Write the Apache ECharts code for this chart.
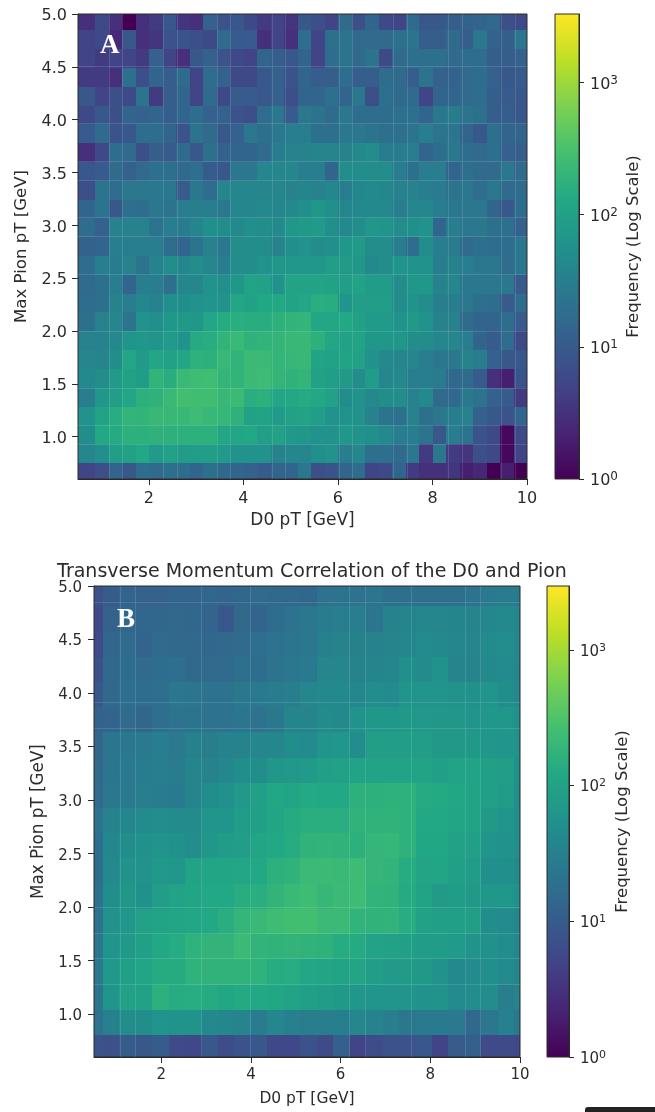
<!DOCTYPE html>
<html><head><meta charset="utf-8">
<script src="https://cdn.jsdelivr.net/npm/echarts@6/dist/echarts.min.js"></script>
<style>html,body{margin:0;padding:0;background:#fff}#c{width:655px;height:1112px;filter:blur(0.7px)}</style>
</head><body><div id="c"></div>
<script>
// Panel A: frequency per bin, rows listed top (pT 5.0) to bottom (pT 0.6), left to right
const freqA = [
[3,6,3,1,3,4,9,3.5,3,12,8,9,6,4,5,3.5,9,7,5,16,7,14,6,5,16,9,9,11,13,14,15,7,6],
[5,6,2.5,9,3,3.5,8,8,7,6,16,10,10,3,5,3,18,5,20,22,16,16,16,20,22,11,11,16,11,25,12,11,24],
[5,4,5,5,4,12,5,3,9,12,8,6,5,14,11,9,14,5,18,22,16,22,6,16,20,20,20,16,18,18,11,11,12],
[4,4,3,20,7,14,11,16,5,18,12,6,6,9,12,8,14,11,11,18,11,11,18,16,11,22,12,12,16,18,12,9,10],
[9,5,7,6,22,4,11,14,5,16,6,10,10,9,12,7,14,14,20,14,25,7,20,16,16,5,14,14,16,18,11,10,9],
[6,9,7,14,12,14,11,14,18,12,12,8,7,18,25,10,25,22,16,25,18,18,18,20,20,14,25,28,22,20,11,11,9],
[10,16,8,9,18,18,14,8,22,16,9,12,25,20,25,30,30,20,20,25,25,22,20,20,22,30,22,24,14,9,20,14,14],
[3,6,18,16,7,11,10,16,9,20,12,14,14,16,30,35,35,38,38,35,45,50,28,28,30,14,18,25,18,16,20,12,11],
[9,10,16,12,16,20,20,16,20,10,9,25,25,40,40,40,30,30,14,50,50,50,50,30,20,30,30,14,20,16,16,25,16],
[7,22,18,25,25,25,25,10,25,18,40,40,40,40,40,35,38,35,42,30,42,45,42,35,35,30,28,22,25,18,25,16,18],
[14,22,9,20,18,25,22,30,30,30,25,40,40,45,40,45,55,70,55,40,45,45,45,30,40,40,30,25,25,25,14,9,18],
[18,12,35,35,35,22,30,28,38,55,50,45,55,50,45,70,75,80,55,45,50,70,65,50,55,60,14,30,25,25,20,20,12],
[13,14,30,30,30,30,18,14,22,35,25,50,50,50,35,55,60,50,55,70,80,50,50,30,18,50,30,28,16,20,18,18,25],
[18,30,28,35,22,35,50,40,50,40,30,50,50,60,70,70,70,70,90,80,70,45,50,65,60,60,30,35,30,25,25,18,25],
[16,20,30,14,30,30,20,40,40,60,55,70,110,100,60,110,110,110,100,90,110,85,85,50,70,70,35,40,25,25,25,25,10],
[18,20,35,30,40,35,55,55,60,65,60,120,100,125,130,110,120,160,150,65,90,90,90,50,60,50,30,30,25,20,18,10,18],
[20,35,40,22,60,55,70,75,70,120,140,160,150,150,170,190,200,120,120,130,100,80,80,60,75,60,35,35,16,14,14,18,10],
[35,35,45,65,70,65,80,60,140,150,190,230,180,190,200,220,220,170,120,100,110,70,70,70,50,50,40,40,30,14,10,18,6],
[40,38,50,120,80,120,100,120,180,170,220,190,240,240,200,210,220,110,100,110,100,60,45,40,40,30,25,25,35,30,12,9,9],
[45,50,80,100,85,190,150,230,250,270,200,190,240,250,200,180,200,100,90,75,50,85,40,45,30,30,28,15,16,10,3,2,8],
[30,70,90,120,170,180,230,280,270,270,220,240,160,170,120,130,140,130,100,50,60,45,50,50,35,45,16,15,25,22,12,10,4],
[60,110,150,200,190,220,220,220,250,220,210,180,100,110,80,100,110,90,60,60,60,35,22,20,35,20,25,30,35,12,9,8,14],
[50,130,140,170,170,180,170,170,170,170,120,120,130,90,100,75,70,60,60,70,60,55,45,30,30,22,9,30,22,8,6,1.2,6],
[40,55,90,100,130,80,100,85,90,90,80,60,60,60,35,40,40,55,60,30,40,20,20,16,25,4,25,4,3.5,7,6,1.2,5],
[5,7,14,9,18,16,20,18,14,20,15,14,12,10,14,14,25,7,8,14,18,5,6,14,4,3,3,3.5,2,2.5,1,2,1]
];
// Panel B: frequency per bin, rows listed top to bottom
const freqB = [
[7,10,13,12,12,13,13,14,13,14,16,15,15,14,20,21,20,22,19,19,19,19,19,20,26,28,26],
[6,12,14,14,14,15,14,13,9,15,13,17,20,24,28,29,30,22,34,37,38,39,37,36,40,42,38],
[6,14,16,13,16,15,15,14,15,16,18,20,22,24,32,35,33,35,36,40,44,42,40,38,45,48,40],
[7,15,17,16,17,18,15,16,16,19,17,21,24,26,38,38,34,37,38,52,45,56,36,36,42,44,40],
[9,15,18,17,18,24,22,20,20,24,26,27,30,38,42,42,40,48,44,62,60,60,58,55,62,50,42],
[12,13,16,14,18,20,21,20,20,22,20,24,36,36,45,42,56,66,66,72,70,66,68,62,68,64,54],
[14,22,24,26,29,25,33,30,34,34,40,40,50,44,60,64,48,86,84,84,84,72,72,72,64,62,58],
[15,22,26,28,30,28,36,35,40,50,50,68,70,74,92,94,98,100,100,100,100,92,98,98,92,84,54],
[16,24,26,30,28,26,36,50,55,70,88,115,110,125,120,122,160,160,165,165,130,128,118,100,90,80,52],
[20,34,40,44,48,45,45,60,62,80,92,110,130,150,150,150,170,170,170,165,122,120,110,100,72,62,50],
[18,40,50,54,60,55,48,66,80,84,110,120,135,170,178,170,160,188,195,165,115,118,94,88,62,56,50],
[18,42,58,56,70,64,100,108,110,112,122,160,172,215,225,210,232,190,180,135,105,108,90,80,52,52,42],
[20,50,68,54,82,98,110,120,122,140,145,180,208,238,200,220,232,175,170,130,100,78,80,72,64,68,54],
[20,58,64,96,102,110,112,122,150,188,208,238,255,255,220,215,175,170,175,138,94,90,88,86,50,44,38],
[24,60,72,90,120,132,168,178,180,215,175,172,178,170,165,135,130,98,95,90,80,80,74,58,54,46,40],
[25,70,90,110,130,134,168,170,170,170,168,135,138,112,104,100,106,85,74,78,72,56,42,44,52,44,36],
[22,60,96,94,160,132,138,130,115,128,120,118,100,90,80,72,64,62,60,60,56,58,44,48,48,30,34],
[20,32,46,50,60,58,58,42,40,36,28,38,32,30,30,31,38,34,30,24,26,26,25,15,24,32,24],
[8,7,10,9,10,6,5.5,9,6.5,8,9,5.5,5.5,8,6,11,5,6.5,7.5,7.5,9,5,10,11,6,6,5.5]
];
const xTicks = [2,4,6,8,10];
const yTicks = [1,1.5,2,2.5,3,3.5,4,4.5,5];
const cbMajor = [1,10,100,1000];
const cbMinor = [2,3,4,5,6,7,8,9,20,30,40,50,60,70,80,90,200,300,400,500,600,700,800,900,2000,3000];
const cbMaxA = 3300, cbMaxB = 2950;
const seamXA = [1.16,1.44,2.30,2.59,3.45,3.73,4.60,4.88,6.03,6.30,7.17,7.46,8.33,8.62,9.46,9.75];
const seamYA = [4.51,3.97,3.61,3.43,3.08,2.90,2.54,2.00,1.46,1.11,0.93];
const seamXB = [1.08,1.43,2.90,3.99,6.20,6.54,7.58,8.79,9.11];
const seamYB = [4.85,3.91,3.67,2.00,1.76,1.52,1.28];
const viridis = ['#440154','#482475','#414487','#355f8d','#2a788e','#21918c','#22a884','#44bf70','#7ad151','#bddf26','#fde725'];
const TEXT = '#2b2b2b', AXIS = '#2b2b2b';
const FONT = '"DejaVu Sans"';

function edges(lo, first, step, count, hi){
  const e=[lo]; for(let k=0;k<count;k++) e.push(first+k*step); e.push(hi); return e;
}
const xEdgesA = edges(0.5,0.86,2/7,32,10);
const yEdgesA = edges(0.6,0.752,0.178,24,5);
const xEdgesB = edges(0.5,0.697,0.367,26,10);
const yEdgesB = edges(0.6,0.806,0.2355,18,5);

function colorAt(v,maxV){
  const t=Math.max(0,Math.min(1,Math.log10(Math.max(v,1))/Math.log10(maxV)));
  return echarts.color.lerp(t,viridis);
}
function cells(freq,xe,ye){
  const out=[], n=freq.length;
  freq.forEach((row,r)=>row.forEach((v,c)=>{
    const j=n-1-r;
    out.push([xe[c],xe[c+1],ye[j],ye[j+1],v]);
  }));
  return out;
}
function heatSeries(idx,freq,xe,ye,maxV,sx,sy){
  return {
    type:'custom',xAxisIndex:idx,yAxisIndex:idx,z:1,silent:true,
    data:cells(freq,xe,ye),encode:{x:[0,1],y:[2,3]},
    renderItem(p,api){
      const a=api.coord([api.value(0),api.value(3)]),b=api.coord([api.value(1),api.value(2)]);
      const x=Math.round(a[0]),y=Math.round(a[1]);
      return {type:'rect',shape:{x,y,width:Math.round(b[0])-x,height:Math.round(b[1])-y},
        style:{fill:colorAt(api.value(4),maxV)}};
    },
    markLine:{silent:true,symbol:'none',label:{show:false},animation:false,
      lineStyle:{color:'#ffffff',opacity:0.13,width:1,type:'solid'},
      data:sx.map(v=>({xAxis:v})).concat(sy.map(v=>({yAxis:v})))}
  };
}
const gradient=new echarts.graphic.LinearGradient(0,1,0,0,viridis.map((c,i)=>({offset:i/10,color:c})));
function barSeries(xIdx,yIdx,maxV){
  return {type:'custom',xAxisIndex:xIdx,yAxisIndex:yIdx,z:1,silent:true,
    data:[[0,1,1,maxV]],encode:{x:[0,1],y:[2,3]},
    renderItem(p,api){
      const a=api.coord([0,maxV]),b=api.coord([1,1]);
      return {type:'rect',shape:{x:a[0],y:a[1],width:b[0]-a[0],height:b[1]-a[1]},style:{fill:gradient}};
    }};
}
function mainX(idx,gap,fs,nameFs,margin){
  return {type:'value',gridIndex:idx,min:0.5,max:10,name:'D0 pT [GeV]',nameLocation:'middle',nameGap:gap,
    nameTextStyle:{color:TEXT,fontFamily:FONT,fontSize:nameFs},splitLine:{show:false},
    axisLine:{show:true,onZero:false,lineStyle:{color:AXIS}},
    axisTick:{show:true,length:6,customValues:xTicks,lineStyle:{color:AXIS}},
    axisLabel:{color:TEXT,fontFamily:FONT,fontSize:fs,margin,customValues:xTicks,formatter:v=>String(v)}};
}
function mainY(idx,gap,fs,nameFs,margin){
  return {type:'value',gridIndex:idx,min:0.6,max:5,name:'Max Pion pT [GeV]',nameLocation:'middle',nameGap:gap,
    nameTextStyle:{color:TEXT,fontFamily:FONT,fontSize:nameFs},splitLine:{show:false},
    axisLine:{show:true,onZero:false,lineStyle:{color:AXIS}},
    axisTick:{show:true,length:6,customValues:yTicks,lineStyle:{color:AXIS}},
    axisLabel:{margin,customValues:yTicks,formatter:v=>'{a|'+v.toFixed(1)+'}',
      rich:{a:{color:TEXT,fontFamily:FONT,fontSize:fs,padding:[4,0,0,0]}}}};
}
function barX(idx){
  return {type:'value',gridIndex:idx,min:0,max:1,show:false};
}
function barY(idx,maxV,gap,fs,margin){
  return {type:'log',logBase:10,gridIndex:idx,min:1,max:maxV,position:'right',
    name:'Frequency (Log Scale)',nameLocation:'middle',nameRotate:90,nameGap:gap,
    nameTextStyle:{color:TEXT,fontFamily:FONT,fontSize:16.5},splitLine:{show:false},
    axisLine:{show:true,onZero:false,lineStyle:{color:AXIS}},
    axisTick:{show:true,length:5,customValues:cbMajor,lineStyle:{color:AXIS}},
    axisLabel:{margin,padding:[4,0,0,0],customValues:cbMajor,
      formatter:v=>'{b|10}{s|'+Math.round(Math.log10(v))+'}',
      rich:{b:{color:TEXT,fontFamily:FONT,fontSize:fs},s:{color:TEXT,fontFamily:FONT,fontSize:fs-4,padding:[0,0,8,0]}}}};
}
function barYMinor(idx,maxV){
  return {type:'log',logBase:10,gridIndex:idx,min:1,max:maxV,position:'right',splitLine:{show:false},
    axisLine:{show:false},axisLabel:{show:false},
    axisTick:{show:true,length:3,customValues:cbMinor,lineStyle:{color:AXIS}}};
}
const frame={show:true,borderColor:AXIS,borderWidth:1,backgroundColor:'transparent',z:5};
const option={
  animation:false,backgroundColor:'#fff',
  title:{text:'Transverse Momentum Correlation of the D0 and Pion',left:307,top:558,textAlign:'center',
    textStyle:{color:TEXT,fontFamily:FONT,fontSize:19,fontWeight:'normal'}},
  grid:[
    Object.assign({left:78,top:14,width:449,height:465},frame),
    Object.assign({left:94,top:586,width:426,height:471},frame),
    Object.assign({left:555,top:14,width:24,height:465},frame),
    Object.assign({left:547,top:586,width:22,height:471},frame)
  ],
  xAxis:[mainX(0,33,16,17,12),mainX(1,34,15,15.5,11),barX(2),barX(3),barX(2),barX(3)],
  yAxis:[mainY(0,45,16,16.6,11),mainY(1,43,15,16.8,12),barY(2,cbMaxA,46.5,16,11),barY(3,cbMaxB,45,15,11),barYMinor(2,cbMaxA),barYMinor(3,cbMaxB)],
  series:[
    heatSeries(0,freqA,xEdgesA,yEdgesA,cbMaxA,seamXA,seamYA),
    heatSeries(1,freqB,xEdgesB,yEdgesB,cbMaxB,seamXB,seamYB),
    barSeries(2,2,cbMaxA),barSeries(3,3,cbMaxB),
    {type:'custom',xAxisIndex:4,yAxisIndex:4,data:[],renderItem(){return null;}},
    {type:'custom',xAxisIndex:5,yAxisIndex:5,data:[],renderItem(){return null;}}
  ],
  graphic:[
    {type:'text',left:100,top:33,z:20,style:{text:'A',fill:'#fff',font:'bold 27px "Liberation Serif"'}},
    {type:'text',left:117,top:607,z:20,style:{text:'B',fill:'#fff',font:'bold 27px "Liberation Serif"'}},
    {type:'rect',left:585,top:1107,z:20,shape:{width:70,height:5,r:[3,0,0,0]},style:{fill:'#222'}}
  ]
};
echarts.init(document.getElementById('c')).setOption(option);
</script></body></html>
